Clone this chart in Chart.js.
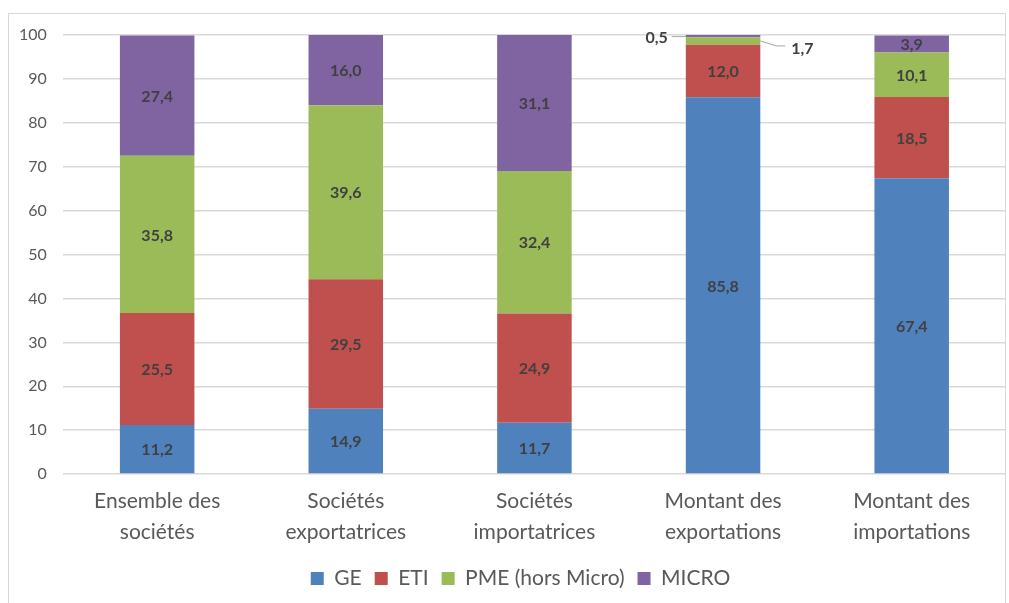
<!DOCTYPE html>
<html><head><meta charset="utf-8">
<script src="https://cdn.jsdelivr.net/npm/chart.js@4/dist/chart.umd.min.js"></script>
<style>
html,body{margin:0;padding:0;background:#fff;overflow:hidden;}
#frame{position:absolute;left:8px;top:13px;width:998px;height:600px;border:1px solid #d9d9d9;box-sizing:border-box;}
#wrap{position:absolute;left:0;top:0;width:1009px;height:603px;}
</style></head>
<body>
<div id="frame"></div>
<div id="wrap"><canvas id="c" width="1009" height="603"></canvas></div>
<script>
const categories = [["Ensemble des","sociétés"],["Sociétés","exportatrices"],["Sociétés","importatrices"],["Montant des","exportations"],["Montant des","importations"]];
const seriesNames = ["GE","ETI","PME (hors Micro)","MICRO"];
const GE = [11.2,14.9,11.7,85.8,67.4];
const ETI = [25.5,29.5,24.9,12.0,18.5];
const PME = [35.8,39.6,32.4,1.7,10.1];
const MICRO = [27.4,16.0,31.1,0.5,3.9];
const yTicks = [0,10,20,30,40,50,60,70,80,90,100];
const colors = ["#4f81bd","#c0504d","#9bbb59","#8064a2"];

const fmt = v => v.toFixed(1).replace('.', ',');

const labelPlugin = {
  id:'labels',
  afterUpdate(chart){
    const lg = chart.legend;
    if (lg && typeof lg.adjustHitBoxes === 'function') {
      lg.left += 16; lg.right += 16;
      lg.adjustHitBoxes();
    }
  },
  afterDatasetsDraw(chart){
    const ctx = chart.ctx;
    ctx.save();
    ctx.font = 'bold 16px Lato';
    ctx.fillStyle = '#404040';
    ctx.textBaseline = 'middle';
    chart.data.datasets.forEach((ds, di) => {
      const meta = chart.getDatasetMeta(di);
      meta.data.forEach((bar, i) => {
        const v = ds.data[i];
        const cy = (bar.y + bar.base) / 2;
        const half = bar.width / 2;
        if (i === 3 && di === 3) {
          ctx.strokeStyle = '#a6a6a6'; ctx.lineWidth = 1;
          ctx.beginPath(); ctx.moveTo(bar.x - half - 14, cy + 0.5); ctx.lineTo(bar.x - half, cy + 0.5); ctx.stroke();
          ctx.textAlign = 'right';
          ctx.fillText(fmt(v), bar.x - half - 18, cy + 2);
        } else if (i === 3 && di === 2) {
          ctx.strokeStyle = '#a6a6a6'; ctx.lineWidth = 1;
          ctx.beginPath(); ctx.moveTo(bar.x + half, cy); ctx.lineTo(bar.x + half + 16, cy + 5); ctx.lineTo(bar.x + half + 25, cy + 5); ctx.stroke();
          ctx.textAlign = 'left';
          ctx.fillText(fmt(v), bar.x + half + 31, cy + 8);
        } else {
          ctx.textAlign = 'center';
          ctx.fillText(fmt(v), bar.x, cy + 1);
        }
      });
    });
    ctx.restore();
  }
};

const datasets = [GE, ETI, PME, MICRO].map((d, k) => ({
  label: seriesNames[k], data: d, backgroundColor: colors[k],
  borderWidth: 0, categoryPercentage: 1.0, barPercentage: 0.395
}));

new Chart(document.getElementById('c'), {
  type: 'bar',
  data: { labels: categories, datasets },
  options: {
    responsive: false, animation: false,
    layout: { padding: { top: 35, right: 3, left: 3, bottom: 4 } },
    plugins: {
      legend: { position: 'bottom',
        labels: { font: { family: 'Lato', size: 21 }, color: '#595959', boxWidth: 13, boxHeight: 13, padding: 13 } },
      tooltip: { enabled: false }
    },
    scales: {
      x: { stacked: true, grid: { display: false }, border: { display: false },
        afterFit: s => { s.height += 4; },
        ticks: { font: { family: 'Lato', size: 21, lineHeight: 1.45 }, color: '#595959', padding: 4 } },
      y: { stacked: true, min: 0, max: 100, afterBuildTicks: a => { a.ticks = yTicks.map(v => ({ value: v })); },
        grid: { color: '#d9d9d9', lineWidth: 1.5, drawTicks: false }, border: { display: false },
        ticks: { font: { family: 'Lato', size: 16 }, color: '#595959', padding: 16 } }
    }
  },
  plugins: [labelPlugin]
});
</script>
</body></html>
